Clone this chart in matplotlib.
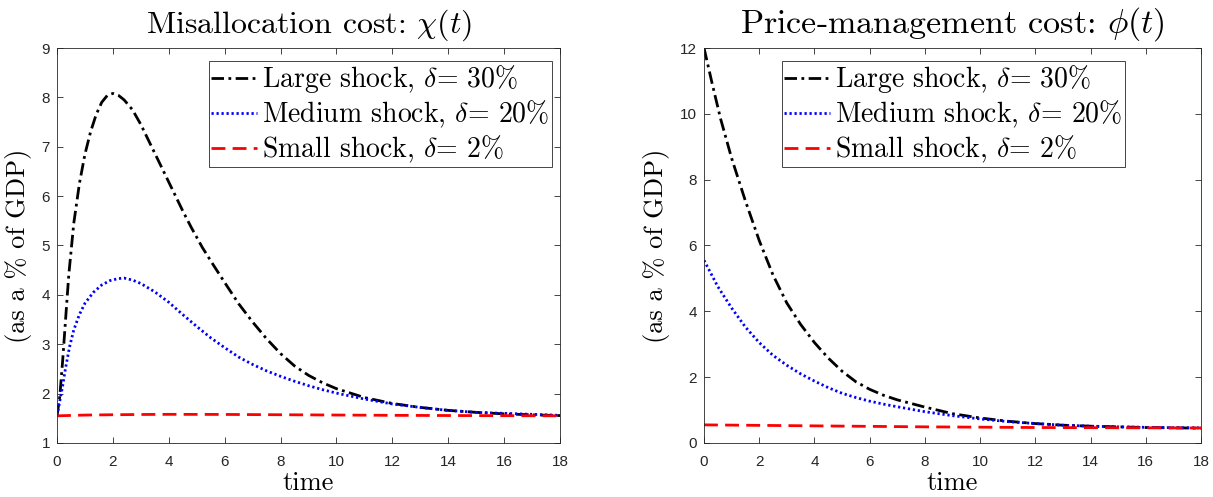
import matplotlib
matplotlib.use('Agg')
import matplotlib.pyplot as plt

plt.rcParams['mathtext.fontset'] = 'cm'
plt.rcParams['axes.unicode_minus'] = False

# misallocation cost chi(t)
t_chi_large = [0, 0.1, 0.2, 0.3, 0.42, 0.6, 0.8, 1.0, 1.2, 1.4, 1.6, 1.8, 2.0, 2.2, 2.4,
               2.7, 3.0, 3.3, 3.6, 3.9, 4.2, 4.5, 4.8, 5.2, 5.6, 6.0, 6.5, 7.0, 7.5, 8.0,
               8.5, 9.0, 9.5, 10, 11, 12, 13, 14, 15, 16, 17, 18]
chi_large = [1.55, 1.95, 2.65, 3.45, 4.4, 5.45, 6.25, 6.85, 7.3, 7.65, 7.9, 8.04, 8.08, 8.04, 7.95,
             7.75, 7.45, 7.1, 6.75, 6.4, 6.05, 5.7, 5.37, 4.96, 4.6, 4.25, 3.82, 3.45, 3.11, 2.81,
             2.56, 2.37, 2.22, 2.1, 1.92, 1.8, 1.72, 1.66, 1.62, 1.59, 1.57, 1.555]

t_chi_medium = [0, 0.1, 0.2, 0.3, 0.45, 0.6, 0.8, 1.0, 1.3, 1.6, 1.9, 2.2, 2.4, 2.7, 3.0,
                3.5, 4.0, 4.5, 5.0, 5.5, 6.0, 6.5, 7.0, 7.5, 8.0, 8.5, 9.0, 9.5, 10, 11,
                12, 13, 14, 15, 16, 17, 18]
chi_medium = [1.55, 1.85, 2.15, 2.5, 2.95, 3.29, 3.6, 3.83, 4.05, 4.2, 4.29, 4.33, 4.34, 4.3, 4.23,
              4.06, 3.85, 3.6, 3.36, 3.13, 2.93, 2.74, 2.59, 2.46, 2.35, 2.25, 2.16, 2.08, 2.01, 1.89,
              1.79, 1.72, 1.66, 1.62, 1.6, 1.58, 1.56]

t_chi_small = [0, 1, 2, 3, 4, 6, 8, 10, 12, 14, 16, 18]
chi_small = [1.55, 1.565, 1.572, 1.577, 1.58, 1.578, 1.572, 1.566, 1.56, 1.556, 1.553, 1.55]

# price-management cost phi(t)
t_phi_large = [0, 0.3, 0.6, 1.0, 1.5, 2.0, 2.5, 3.0, 3.5, 4.0, 4.5, 5.0, 5.5, 6.0, 6.5,
               7.0, 8.0, 9.0, 10, 11, 12, 13, 14, 15, 16, 17, 18]
phi_large = [12.0, 10.9, 9.85, 8.65, 7.35, 6.15, 5.1, 4.25, 3.6, 3.05, 2.58, 2.18, 1.86, 1.63, 1.45,
             1.31, 1.09, 0.89, 0.76, 0.66, 0.59, 0.54, 0.51, 0.49, 0.47, 0.46, 0.45]

t_phi_medium = [0, 0.5, 1.0, 1.5, 2.0, 2.5, 3.0, 3.5, 4.0, 4.5, 5.0, 5.5, 6.0, 6.5, 7.0,
                8.0, 9.0, 10, 11, 12, 13, 14, 15, 16, 17, 18]
phi_medium = [5.55, 4.75, 4.1, 3.52, 3.05, 2.66, 2.36, 2.1, 1.88, 1.68, 1.51, 1.38, 1.27, 1.18, 1.1,
              0.95, 0.83, 0.73, 0.65, 0.59, 0.54, 0.51, 0.49, 0.475, 0.465, 0.46]

t_phi_small = [0, 2, 4, 6, 8, 10, 12, 14, 16, 18]
phi_small = [0.55, 0.535, 0.52, 0.505, 0.49, 0.48, 0.47, 0.465, 0.46, 0.455]

labels = [r'Large shock, $\delta$= 30%', r'Medium shock, $\delta$= 20%', r'Small shock, $\delta$= 2%']
x_ticks = list(range(0, 19, 2))
chi_ticks = list(range(1, 10))
phi_ticks = list(range(0, 13, 2))

axis_gray = (0.15, 0.15, 0.15)
cm_font = 'cmr10'

fig = plt.figure(figsize=(12.13, 4.97), dpi=100)
ax1 = fig.add_axes([0.047, 0.1087, 0.4147, 0.7947])
ax2 = fig.add_axes([0.5804, 0.1087, 0.4097, 0.7947])

panels = [
    (ax1, (t_chi_large, chi_large), (t_chi_medium, chi_medium), (t_chi_small, chi_small),
     chi_ticks, (1, 9), r'Misallocation cost: $\chi(t)$', 23, 0.984),
    (ax2, (t_phi_large, phi_large), (t_phi_medium, phi_medium), (t_phi_small, phi_small),
     phi_ticks, (0, 12), r'Price-management cost: $\phi(t)$', 24.5, 0.847),
]

for ax, large, medium, small, yticks, ylim, title, title_size, leg_x in panels:
    ax.plot(*large, color='k', lw=2, dashes=(4.5, 1.6, 1.0, 1.6), label=labels[0])
    ax.plot(*medium, color=(0, 0, 1), lw=2, dashes=(0.8, 1.0), label=labels[1])
    ax.plot(*small, color=(1, 0, 0), lw=2, dashes=(5.0, 2.6), label=labels[2])

    ax.set_xlim(0, 18)
    ax.set_ylim(*ylim)
    ax.set_xticks(x_ticks)
    ax.set_yticks(yticks)
    ax.tick_params(direction='in', length=4, width=0.6, top=True, right=True,
                   colors=axis_gray, labelsize=11)
    ax.tick_params(axis='x', pad=8.5)
    ax.tick_params(axis='y', pad=5)
    for lbl in ax.get_xticklabels() + ax.get_yticklabels():
        lbl.set_family('Liberation Sans')
    for sp in ax.spines.values():
        sp.set_color(axis_gray)
        sp.set_linewidth(0.6)

    ax.set_title(title, family=cm_font, fontsize=title_size, pad=11)
    ax.set_xlabel('time', family=cm_font, fontsize=19, labelpad=1.5)
    ax.set_ylabel('(as a % of GDP)', family=cm_font, fontsize=19, labelpad=7)

    leg = ax.legend(loc='upper right', bbox_to_anchor=(leg_x, 0.967), borderaxespad=0,
                    prop={'family': cm_font, 'size': 20}, fancybox=False, framealpha=1,
                    handlelength=1.66, handletextpad=0.18, labelspacing=0.13, borderpad=0.08)
    leg.get_frame().set_edgecolor(axis_gray)
    leg.get_frame().set_linewidth(0.6)

fig.savefig('out.png', dpi=100)
